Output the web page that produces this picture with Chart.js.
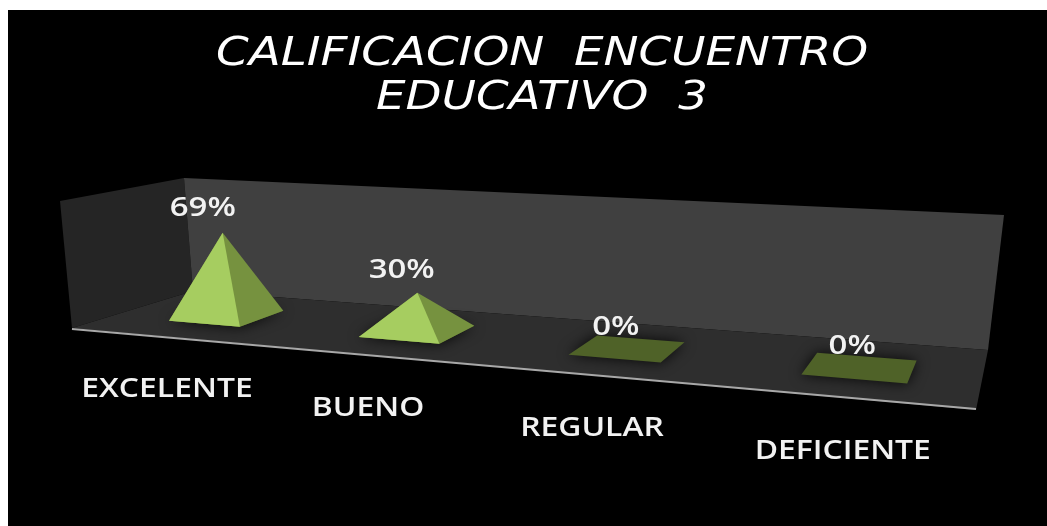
<!DOCTYPE html>
<html><head><meta charset="utf-8">
<script src="https://cdn.jsdelivr.net/npm/chart.js@4"></script>
<style>html,body{margin:0;padding:0;background:#fff;overflow:hidden}
#w{position:absolute;left:0;top:0;width:1047px;height:526px}
canvas{filter:blur(0.5px)}</style></head>
<body><div id="w"><canvas id="c"></canvas></div>
<script>
const categories = ['EXCELENTE','BUENO','REGULAR','DEFICIENTE'];
const values = [69,30,0,0];
const titleLines = ['CALIFICACION  ENCUENTRO','EDUCATIVO  3'];

const FLOOR = {a:582.9,b:-129.9,c:193,d:-16.1,e:-3.5,f:291,g:-0.2147,h:-0.1234};
function project(u,v,hgt){
  const F=FLOOR, w=1+F.g*u+F.h*v;
  const x=(F.a*u+F.b*v+F.c)/w, y=(F.d*u+F.e*v+F.f)/w;
  const H=hgt/w;
  return {x:x+H*(-0.08+0.2*u), y:y-H};
}
function poly(ctx,pts,fill){
  ctx.beginPath();
  pts.forEach((p,i)=>i?ctx.lineTo(p[0]??p.x,p[1]??p.y):ctx.moveTo(p[0]??p.x,p[1]??p.y));
  ctx.closePath();ctx.fillStyle=fill;ctx.fill();
}
function stretched(ctx,text,x,y,font,sx){
  ctx.save();ctx.translate(x,y);ctx.scale(sx,1);
  ctx.font=font;ctx.fillStyle='#f2f2f2';ctx.textAlign='center';ctx.textBaseline='middle';
  ctx.fillText(text,0,0);ctx.restore();
}
const U_SHIFT=0.012;
const warp=u=>u+U_SHIFT+0.006-0.06*(u-0.5)*(u-0.5);
const TITLE_STRETCH=1.2;
const scene={
  id:'scene',
  afterLayout(chart){
    const t=chart.titleBlock;
    if(t && !t._wrapped){
      const orig=t.draw;
      t._wrapped=true;
      t.draw=function(a){
        const c=this.ctx, cx=(this.left+this.right)/2;
        c.save();c.translate(cx,0);c.scale(TITLE_STRETCH,1);c.translate(-cx,0);
        orig.call(this,a);c.restore();
      };
    }
  },
  beforeDraw(chart){
    const ctx=chart.ctx;
    ctx.save();
    ctx.fillStyle='#fff';ctx.fillRect(0,0,chart.width,chart.height);
    ctx.fillStyle='#000';ctx.fillRect(8,10,chart.width-8,chart.height-10);
    poly(ctx,[[60,201],[184,178],[193,291],[72,328]],'#252525');
    poly(ctx,[[184,178],[1004,215],[988,350],[193,291]],'#404040');
    poly(ctx,[[193,291],[988,350],[976,410],[72,328]],'#2e2e2e');
    ctx.beginPath();ctx.moveTo(72,329);ctx.lineTo(976,409);
    ctx.strokeStyle='#a8a8a8';ctx.lineWidth=2;ctx.stroke();
    ctx.restore();
  },
  afterDatasetsDraw(chart){
    const ctx=chart.ctx, A=chart.chartArea, meta=chart.getDatasetMeta(0);
    ctx.save();
    meta.data.forEach((bar,i)=>{
      const u=warp((bar.x-A.left)/A.width), v=0.5;
      const du=bar.width/A.width/2, dv=du*4;
      const h=bar.base-bar.y;
      const L=project(u-du,v+dv,0),Fr=project(u+du,v+dv,0),R=project(u+du,v-dv,0),B=project(u-du,v-dv,0);
      const T=project(u,v,h);
      ctx.save();
      ctx.shadowColor='rgba(0,0,0,0.85)';ctx.shadowBlur=14;
      poly(ctx,[L,Fr,R,B],'#4f6228');
      ctx.restore();
      if(h>0){
        poly(ctx,[L,Fr,R,T],'#76923f');
        poly(ctx,[L,Fr,T],'#a6cd60');
      }
      stretched(ctx,values[i]+'%',T.x-22+16*u,T.y-(21+h*0.05),'600 27px "Open Sans"',1.22);
      const g=project(u,1,0);
      stretched(ctx,categories[i],g.x,g.y+53,'600 27px "Open Sans"',1.18);
    });
    ctx.restore();
  }
};
new Chart(document.getElementById('c'),{
  type:'bar',
  data:{labels:categories,datasets:[{data:values,backgroundColor:'transparent',borderWidth:0,barPercentage:0.4,categoryPercentage:1}]},
  options:{
    responsive:true,maintainAspectRatio:false,animation:false,
    layout:{padding:{left:90,right:53,top:0,bottom:116}},
    plugins:{
      legend:{display:false},tooltip:{enabled:false},
      title:{display:true,text:titleLines,color:'#fff',
        font:{family:'"DejaVu Sans"',size:39,style:'italic',weight:'normal',lineHeight:1.15},
        padding:{top:32,bottom:179}}
    },
    scales:{
      x:{display:false},
      y:{display:false,min:0,max:100}
    }
  },
  plugins:[scene]
});
</script></body></html>
